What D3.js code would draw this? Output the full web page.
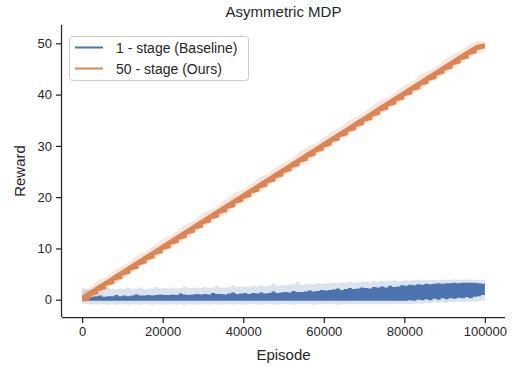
<!DOCTYPE html>
<html><head><meta charset="utf-8">
<script src="https://cdn.jsdelivr.net/npm/d3@7"></script>
<style>body{margin:0;background:#fff}svg{display:block}text{font-family:"Liberation Sans",Arial,sans-serif;fill:#262626}</style>
</head><body>
<svg id="c" width="513" height="367"></svg>
<script>
const title = "Asymmetric MDP";
const xLabel = "Episode";
const yLabel = "Reward";
const seriesNames = ["1 - stage (Baseline)", "50 - stage (Ours)"];
const xTicks = [0, 20000, 40000, 60000, 80000, 100000];
const yTicks = [0, 10, 20, 30, 40, 50];

// Baseline (1-stage): sampled every 1000 episodes
const blueEpisodes = d3.range(0, 100001, 1000);
const blueHigh = [0.6,0.7,0.6,0.7,0.8,0.6,0.7,0.7,0.9,0.7,
 0.8,0.7,0.8,1.0,0.8,0.8,0.9,0.8,0.9,1.0,
 0.9,0.9,1.0,0.9,1.2,1.0,0.9,1.0,1.1,1.0,
 1.1,1.0,1.3,1.1,1.1,1.0,1.2,1.4,1.1,1.2,
 1.3,1.1,1.3,1.2,1.4,1.2,1.3,1.6,1.3,1.4,
 1.5,1.4,1.7,1.5,1.5,1.6,1.8,1.6,1.7,1.9,
 1.8,1.9,2.0,2.2,1.9,2.1,2.3,2.1,2.2,2.4,
 2.3,2.2,2.5,2.4,2.6,2.4,2.7,2.5,2.6,2.8,
 2.7,2.9,2.8,3.0,2.9,3.1,3.0,3.1,3.2,3.1,
 3.2,3.2,3.3,3.2,3.3,3.3,3.3,3.3,3.2,3.1,
 2.8];
const blueLow = [-0.2,-0.2,-0.2,-0.2,-0.2,-0.2,-0.2,-0.2,-0.2,-0.2,
 -0.2,-0.2,-0.2,-0.2,-0.2,-0.2,-0.2,-0.2,-0.2,-0.2,
 -0.2,-0.2,-0.2,-0.2,-0.2,-0.2,-0.2,-0.2,-0.2,-0.2,
 -0.2,-0.2,-0.2,-0.2,-0.2,-0.2,-0.2,-0.2,-0.2,-0.2,
 -0.2,-0.2,-0.2,-0.2,-0.2,-0.2,-0.2,-0.2,-0.2,-0.2,
 -0.2,-0.2,-0.2,-0.2,-0.2,-0.2,-0.2,-0.2,-0.2,-0.2,
 -0.2,-0.2,-0.2,-0.2,-0.2,-0.2,-0.2,-0.2,-0.2,-0.2,
 -0.2,-0.2,-0.2,-0.2,-0.2,-0.2,-0.2,-0.2,-0.2,-0.2,
 -0.2,-0.1,-0.2,0.0,-0.1,0.1,-0.1,0.2,0.0,0.3,
 0.1,0.3,0.2,0.4,0.3,0.5,0.3,0.6,0.7,0.9,
 1.1];
const blueBandHigh = [2.2,2.0,2.1,2.2,2.0,2.1,2.3,2.1,2.0,2.2,
 2.1,2.3,2.1,2.2,2.4,2.1,2.2,2.2,2.5,2.2,
 2.3,2.2,2.4,2.2,2.3,2.6,2.3,2.3,2.4,2.3,
 2.5,2.3,2.4,2.7,2.4,2.4,2.5,2.8,2.5,2.5,
 2.6,2.5,2.7,2.6,2.8,2.6,2.7,3.1,2.7,2.8,
 2.8,2.9,3.0,3.5,2.9,3.0,3.1,3.0,3.2,3.1,
 3.2,3.2,3.3,3.2,3.4,3.3,3.5,3.3,3.4,3.5,
 3.5,3.4,3.6,3.5,3.7,3.6,3.6,3.8,3.6,3.7,
 3.8,3.7,3.8,3.8,3.9,3.8,3.9,3.9,3.8,3.9,
 3.9,3.9,4.0,3.9,3.9,4.0,3.9,3.9,3.9,3.9,
 3.8];
const blueBandLow = [-0.8,-0.9,-0.9,-1.0,-0.9,-0.9,-1.0,-0.9,-1.0,-0.9,
 -0.9,-1.0,-0.9,-0.9,-1.0,-0.9,-0.9,-1.0,-0.9,-0.9,
 -1.0,-0.9,-0.9,-1.0,-0.9,-1.0,-0.9,-0.9,-1.0,-0.9,
 -0.9,-1.0,-0.9,-0.9,-1.0,-0.9,-0.9,-1.0,-0.9,-0.9,
 -1.0,-0.9,-0.9,-0.9,-1.0,-0.9,-0.9,-0.9,-1.0,-0.9,
 -0.9,-0.9,-1.0,-0.9,-0.9,-0.9,-0.9,-1.0,-0.9,-0.9,
 -0.9,-0.9,-0.9,-1.0,-0.9,-0.9,-0.9,-0.9,-0.9,-0.9,
 -0.9,-0.9,-0.9,-0.9,-0.9,-0.9,-0.9,-0.8,-0.9,-0.9,
 -0.8,-0.9,-0.8,-0.7,-0.8,-0.6,-0.7,-0.5,-0.6,-0.5,
 -0.6,-0.4,-0.5,-0.4,-0.5,-0.4,-0.3,-0.4,-0.3,-0.2,
 -0.1];

// Ours (50-stage): one value per stage boundary (every 2000 episodes)
const orangeEpisodes = d3.range(0, 100001, 2000);
const orangeLowStart = [-0.3,0.7,1.7,2.7,3.7,4.7,5.7,6.7,7.7,8.7,9.7,10.7,11.7,12.7,13.7,14.7,15.7,16.7,17.7,18.7,19.7,20.7,21.7,22.7,23.7,24.7,25.7,26.7,27.7,28.7,29.7,30.7,31.7,32.7,33.7,34.7,35.7,36.7,37.7,38.7,39.7,40.7,41.7,42.7,43.7,44.7,45.7,46.7,47.7,48.7];
const orangeLowEnd = [0.1,1.1,2.1,3.1,4.1,5.1,6.1,7.1,8.1,9.1,10.1,11.1,12.1,13.1,14.1,15.1,16.1,17.1,18.1,19.1,20.1,21.1,22.1,23.1,24.1,25.1,26.1,27.1,28.1,29.1,30.1,31.1,32.1,33.1,34.1,35.1,36.1,37.1,38.1,39.1,40.1,41.1,42.1,43.1,44.1,45.1,46.1,47.1,48.1,49.0];
const orangeHigh = [0.8,1.8,2.8,3.8,4.8,5.8,6.8,7.8,8.8,9.8,10.8,11.8,12.8,13.8,14.8,15.8,16.8,17.8,18.8,19.8,20.8,21.8,22.8,23.8,24.8,25.8,26.8,27.8,28.8,29.8,30.8,31.8,32.8,33.8,34.8,35.8,36.8,37.8,38.8,39.8,40.8,41.8,42.8,43.8,44.8,45.8,46.8,47.8,48.8,49.7,50.0];
const orangeBandLow = [-0.8,0.1,1.1,2.1,3.1,4.1,5.1,6.1,7.1,8.1,9.1,10.1,11.1,12.1,13.1,14.1,15.1,16.1,17.1,18.1,19.1,20.1,21.1,22.1,23.1,24.1,25.1,26.1,27.1,28.1,29.1,30.1,31.1,32.1,33.1,34.1,35.1,36.1,37.1,38.1,39.1,40.1,41.1,42.1,43.1,44.1,45.1,46.1,47.1,48.1,48.6];
const orangeBandHigh = [1.5,2.4,3.8,4.4,5.7,6.5,7.5,8.8,9.5,10.6,11.9,12.5,13.6,14.8,15.5,16.9,17.6,18.5,19.8,20.9,21.5,22.6,23.9,24.5,25.8,26.6,27.5,28.8,29.9,30.5,31.6,32.8,33.5,34.9,35.6,36.5,37.8,38.9,39.5,40.6,41.8,42.5,43.9,44.6,45.5,46.8,47.8,48.5,49.6,50.5,50.3];

const svg = d3.select("#c");
const L = 62, R = 505, T = 25, B = 317;
const x = d3.scaleLinear().domain([-5000, 105000]).range([L, R]);
const y = d3.scaleLinear().domain([-3.37, 53.57]).range([B, T]);
const blue = "#4c72b0", orange = "#dd8452";

svg.append("clipPath").attr("id","clp").append("rect")
  .attr("x", L).attr("y", T).attr("width", R-L).attr("height", B-T);
const g = svg.append("g").attr("clip-path","url(#clp)");

function band(xs, lo, hi, curve){
  return d3.area().curve(curve)
    .x((d,i)=>x(xs[i])).y0((d,i)=>y(lo[i])).y1((d,i)=>y(hi[i]))(xs);
}
g.append("path").attr("d", band(blueEpisodes, blueBandLow, blueBandHigh, d3.curveStepAfter)).attr("fill", blue).attr("fill-opacity",0.2);
g.append("path").attr("d", band(blueEpisodes, blueLow, blueHigh, d3.curveStepAfter)).attr("fill", blue);
g.append("path").attr("d", band(orangeEpisodes, orangeBandLow, orangeBandHigh, d3.curveLinear)).attr("fill", orange).attr("fill-opacity",0.2);

const up = orangeEpisodes.map((e,i)=>[x(e), y(orangeHigh[i])]);
const lowPts = [];
orangeLowStart.forEach((v,i)=>{
  lowPts.push([x(orangeEpisodes[i]), y(v)]);
  lowPts.push([x(orangeEpisodes[i+1]), y(orangeLowEnd[i])]);
});
const poly = up.concat(lowPts.reverse());
g.append("path").attr("d", d3.line()(poly) + "Z").attr("fill", orange);

const xa = svg.append("g").attr("transform", `translate(0,${B})`)
  .call(d3.axisBottom(x).tickValues(xTicks).tickFormat(d3.format("d")).tickSize(6).tickPadding(4));
const ya = svg.append("g").attr("transform", `translate(${L},0)`)
  .call(d3.axisLeft(y).tickValues(yTicks).tickSize(6).tickPadding(4));
[xa, ya].forEach(a=>{
  a.select(".domain").attr("stroke","#262626").attr("stroke-width",1.25);
  a.selectAll(".tick line").attr("stroke","#262626").attr("stroke-width",1.25);
  a.selectAll(".tick text").style("font-size","13px").attr("fill","#262626");
});
xa.select(".domain").attr("d", `M${L},0.5H${R}`);
ya.select(".domain").attr("d", `M-0.5,${B}V${T}`);

svg.append("text").attr("x", (L+R)/2).attr("y", 17).attr("text-anchor","middle").style("font-size","15px").text(title);
svg.append("text").attr("x", (L+R)/2).attr("y", 360).attr("text-anchor","middle").style("font-size","15px").text(xLabel);
svg.append("text").attr("transform", `translate(25,${(T+B)/2}) rotate(-90)`).attr("text-anchor","middle").style("font-size","15px").text(yLabel);

const lg = svg.append("g");
lg.append("rect").attr("x",69.5).attr("y",36.5).attr("width",179).attr("height",44).attr("rx",3)
  .attr("fill","#fff").attr("fill-opacity",0.8).attr("stroke","#cccccc").attr("stroke-width",1);
[blue, orange].forEach((c,i)=>{
  const yy = 47.5 + i*21;
  lg.append("line").attr("x1",75).attr("x2",103).attr("y1",yy).attr("y2",yy).attr("stroke",c).attr("stroke-width",2);
  lg.append("text").attr("x",116).attr("y",yy+5).style("font-size","14px").text(seriesNames[i]);
});
</script>
</body></html>
